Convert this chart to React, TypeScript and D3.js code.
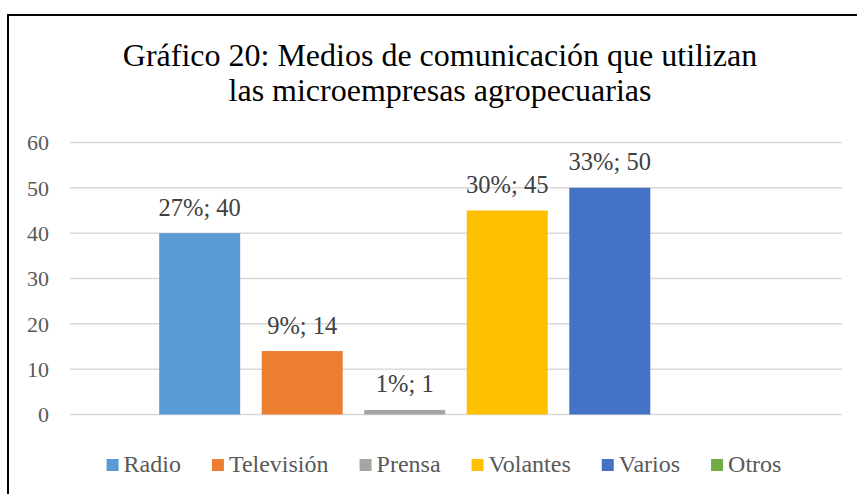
import React from "react";
import * as d3 from "d3";

const categories = ["Radio", "Televisión", "Prensa", "Volantes", "Varios", "Otros"];
const counts = [40, 14, 1, 45, 50, 0];
const percents = ["27%", "9%", "1%", "30%", "33%", ""];
const colors = ["#5B9BD5", "#ED7D31", "#A5A5A5", "#FFC000", "#4472C4", "#70AD47"];
const yTicks = [0, 10, 20, 30, 40, 50, 60];
const titleLines = [
  "Gráfico 20: Medios de comunicación que utilizan",
  "las microempresas agropecuarias",
];

const W = 857;
const H = 494;
const FONT = "Liberation Serif";

const App = () => {
  const plot = { left: 70, right: 842, top: 142.5, bottom: 414.5 };
  const legendRef = React.useRef<SVGGElement>(null);

  const x = d3
    .scaleBand()
    .domain(categories)
    .range([plot.left, plot.right])
    .paddingInner(0.21)
    .paddingOuter(0.87);

  const y = d3.scaleLinear().domain([0, 60]).range([plot.bottom, plot.top]);

  const sq = 12;
  const gapText = 5;
  const gapItem = 31;

  // centre the legend after the text has been laid out
  React.useEffect(() => {
    const g = legendRef.current;
    if (!g) return;
    const items = Array.from(g.children) as SVGGElement[];
    let cur = 0;
    items.forEach((it) => {
      it.setAttribute("transform", `translate(${cur},0)`);
      const t = it.querySelector("text") as SVGTextElement;
      cur += sq + gapText + t.getComputedTextLength() + gapItem;
    });
    const total = cur - gapItem;
    g.setAttribute("transform", `translate(${444 - total / 2},472)`);
  }, []);

  return (
    <svg
      width={W}
      height={H}
      style={{ display: "block", position: "absolute", left: 0, top: 0 }}
    >
      <rect width={W} height={H} fill="#fff" />
      <rect x={8} y={15} width={W + 20} height={H + 20} fill="none" stroke="#000" strokeWidth={2} />

      <text textAnchor="middle" fontFamily={FONT} fontSize={32} fill="#000">
        {titleLines.map((t, i) => (
          <tspan key={i} x={440} y={66 + i * 35}>
            {t}
          </tspan>
        ))}
      </text>

      {yTicks.map((t) => (
        <g key={t}>
          <line x1={plot.left} x2={plot.right} y1={y(t)} y2={y(t)} stroke="#D9D9D9" strokeWidth={1.5} />
          <text x={49} y={y(t)} dy="0.35em" textAnchor="end" fontFamily={FONT} fontSize={22} fill="#595959">
            {t}
          </text>
        </g>
      ))}

      {categories.map((c, i) => (
        <rect
          key={c}
          x={x(c)}
          width={x.bandwidth()}
          y={y(counts[i])}
          height={y(0) - y(counts[i])}
          fill={colors[i]}
        />
      ))}

      {categories.map((c, i) =>
        counts[i] > 0 ? (
          <text
            key={c}
            x={x(c)! + x.bandwidth() / 2}
            y={y(counts[i]) - 17.5}
            textAnchor="middle"
            fontFamily={FONT}
            fontSize={24.5}
            fill="#404040"
          >
            {`${percents[i]}; ${counts[i]}`}
          </text>
        ) : null
      )}

      <g ref={legendRef} transform="translate(106,472)">
        {categories.map((c, i) => (
          <g key={c}>
            <rect y={-13} width={sq} height={sq} fill={colors[i]} />
            <text x={sq + gapText} fontFamily={FONT} fontSize={24} fill="#595959">
              {c}
            </text>
          </g>
        ))}
      </g>
    </svg>
  );
};

export default App;
